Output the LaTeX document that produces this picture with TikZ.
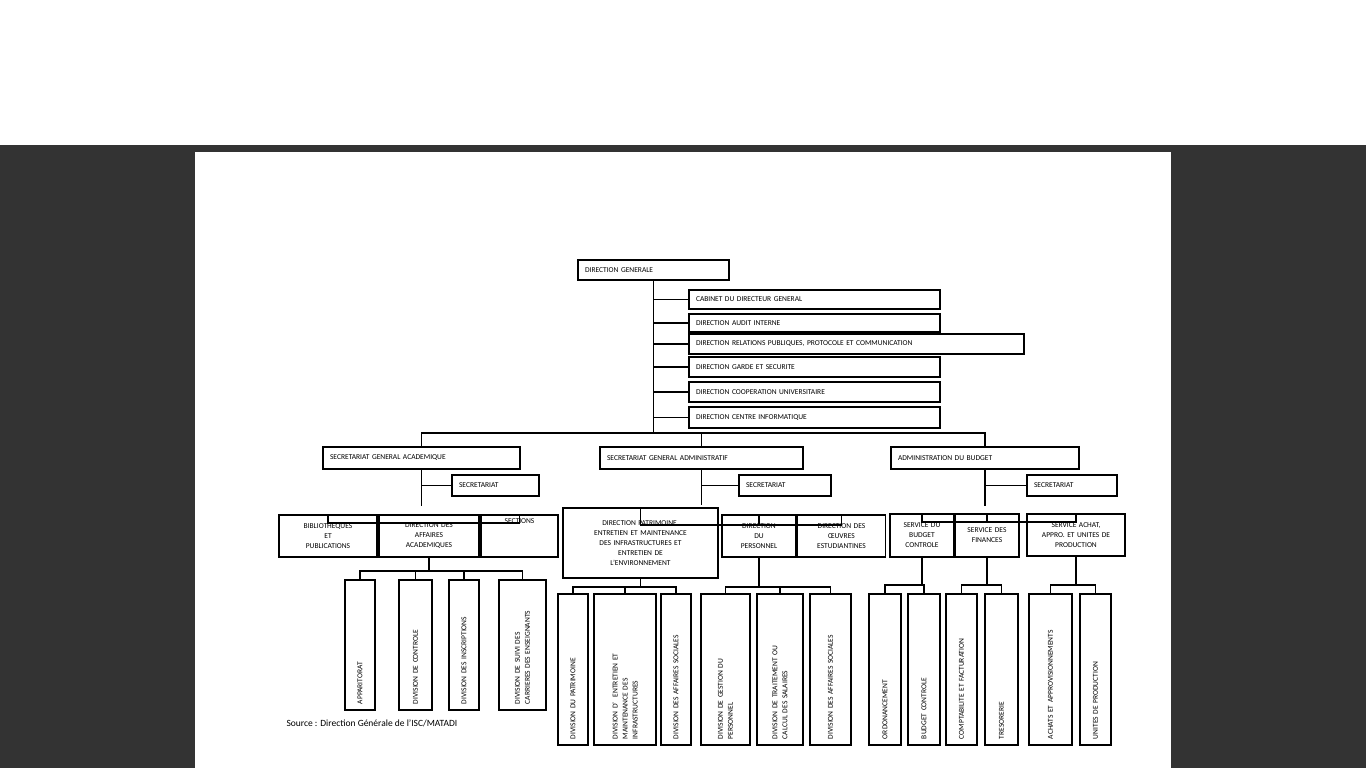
\documentclass[tikz,border=0pt]{standalone}
\usepackage{fontspec}
\setmainfont{Carlito}
\usetikzlibrary{positioning}
\newcommand{\ubox}[7][]{\node[unit,minimum width={(#5-#3)*1pt},minimum height={(#6-#4)*1pt},text width={(#5-#3-14)*1pt},#1] (#2) at ({(#3+#5)/2},{(#4+#6)/2}) {#7};}
\newcommand{\divbox}[6]{\node[unit,rotate=90,minimum width={(#5-#3)*1pt},minimum height={(#4-#2)*1pt},text width={(#5-#3-12)*1pt}] (#1) at ({(#2+#4)/2},{(#3+#5)/2}) {#6};}
\begin{document}
\begin{tikzpicture}[x=1pt,y=-1pt,
    unit/.style={draw,line width=1.6pt,inner sep=2pt,align=left,font=\fontsize{7.5}{10}\selectfont},
    mid/.style={align=center},
    link/.style={line width=1.6pt}]
  \useasboundingbox (0,0) rectangle (1366,768);
  \fill[white] (0,0) rectangle (1366,145);
  \fill[black!80] (0,145) rectangle (1366,768);
  \fill[white] (195,152) rectangle (1171,768);
  % direction generale
  \ubox{dg}{578}{260}{729}{280}{DIRECTION GENERALE}
  \ubox{cab}{689}{290}{940}{309}{CABINET DU DIRECTEUR GENERAL}
  \ubox{audit}{689}{314}{940}{332}{DIRECTION AUDIT INTERNE}
  \ubox{rp}{689}{334}{1024}{354}{DIRECTION RELATIONS PUBLIQUES, PROTOCOLE ET COMMUNICATION}
  \ubox{garde}{689}{357}{940}{377}{DIRECTION GARDE ET SECURITE}
  \ubox{coop}{689}{382}{940}{402}{DIRECTION COOPERATION UNIVERSITAIRE}
  \ubox{info}{689}{407}{940}{428}{DIRECTION CENTRE INFORMATIQUE}
  \coordinate (hub) at (653.5,433);
  % secretariats generaux
  \ubox{sga}{323}{447}{520}{469}{SECRETARIAT GENERAL ACADEMIQUE}
  \ubox{sgad}{600}{447}{803}{469}{SECRETARIAT GENERAL ADMINISTRATIF}
  \ubox{adb}{891}{447}{1079}{469}{ADMINISTRATION DU BUDGET}
  \ubox{sgasec}{452}{475}{539}{496}{SECRETARIAT}
  \ubox{sgadsec}{739}{475}{831}{496}{SECRETARIAT}
  \ubox{adbsec}{1027}{475}{1117}{496}{SECRETARIAT}
  % directions et services
  \ubox[mid,text width=90pt]{bib}{279}{515}{377}{557}{BIBLIOTHEQUES\\ET\\PUBLICATIONS}
  \ubox[mid,text width=94pt]{daa}{379}{515}{479}{557}{DIRECTION DES\\AFFAIRES\\ACADEMIQUES}
  \ubox[mid,text width=70pt,anchor=center,text depth=30pt]{sect}{481}{515}{558}{557}{SECTIONS}
  \ubox[mid,text width=150pt]{patr}{563}{508}{718}{578}{DIRECTION PATRIMOINE,\\ENTRETIEN ET MAINTENANCE\\DES INFRASTRUCTURES ET\\ENTRETIEN DE\\L'ENVIRONNEMENT}
  \ubox[mid,text width=70pt]{pers}{722}{515}{796}{557}{DIRECTION\\DU\\PERSONNEL}
  \ubox[mid,text width=84pt]{oeuv}{798}{515}{885}{557}{DIRECTION DES\\{\OE}UVRES\\ESTUDIANTINES}
  \ubox[mid,text width=60pt]{sbc}{891}{514}{953}{557}{SERVICE DU\\BUDGET\\CONTROLE}
  \ubox[mid,text width=60pt]{sfin}{956}{514}{1018}{557}{SERVICE DES\\FINANCES\\ }
  \ubox[mid,text width=94pt]{sach}{1028}{514}{1124}{556}{SERVICE ACHAT,\\APPRO. ET UNITES DE\\PRODUCTION}
  % divisions
  \divbox{appa}{345}{580}{375}{710}{APPARITORAT}
  \divbox{ctrl}{399}{580}{432}{710}{DIVISION DE CONTROLE}
  \divbox{insc}{449}{580}{479}{710}{DIVISION DES INSCRIPTIONS}
  \divbox{suivi}{499}{580}{546}{710}{DIVISION DE SUIVI DES\\CARRIERES DES ENSEIGNANTS}
  \divbox{dpat}{558}{594}{588}{745}{DIVISION DU PATRIMOINE}
  \divbox{dent}{594}{594}{656}{745}{DIVISION D' \ ENTRETIEN ET\\MAINTENANCE DES\\INFRASTRUCTURES}
  \divbox{dsoc}{661}{594}{691}{745}{DIVISION DES AFFAIRES SOCIALES}
  \divbox{dgest}{701}{594}{750}{745}{DIVISION DE GESTION DU\\PERSONNEL}
  \divbox{dtrait}{757}{594}{803}{745}{DIVISION DE TRAITEMENT OU\\CALCUL DES SALAIRES}
  \divbox{dsoc2}{810}{594}{851}{745}{DIVISION DES AFFAIRES SOCIALES}
  \divbox{ordo}{869}{594}{901}{745}{ORDONANCEMENT}
  \divbox{bctrl}{908}{594}{940}{745}{BUDGET CONTROLE}
  \divbox{compt}{946}{594}{977}{745}{COMPTABILITE ET FACTURATION}
  \divbox{treso}{985}{594}{1018}{745}{TRESORERIE}
  \divbox{achats}{1029}{594}{1072}{745}{ACHATS ET APPROVISIONNEMENTS}
  \divbox{unites}{1080}{594}{1111}{745}{UNITES DE PRODUCTION}
  \node[anchor=west,font=\fontsize{9.5}{11}\selectfont] (src) at (283,723) {Source : Direction Générale de l'ISC/MATADI};
  % liaisons
  \begin{scope}[every path/.style={link}]
    \draw (dg.south) -- (hub);
    \foreach \b in {cab,audit,rp,garde,coop,info} \draw (dg.south) |- (\b.west);
    \draw (sga.north) |- (hub) -| (adb.north);
    \draw (sgad.north) -- (sgad.north |- hub);
    \draw (sga.south) |- (sgasec.west);
    \draw (sgad.south) |- (sgadsec.west);
    \draw (adb.south) |- (adbsec.west);
    \draw (sga.south) -- ++(0,36);
    \draw (bib.north) |- ([yshift=-9pt]daa.north) -| (sect.north);
    \draw (sgad.south) -- ++(0,35);
    \draw (patr.north) |- ([yshift=-11pt]pers.north) -| (oeuv.north);
    \draw (pers.north) -- ++(0,11);
    \draw (adb.south) -- ++(0,36);
    \draw (sbc.north) |- ([yshift=-9pt]sfin.north) -| (sach.north);
    \draw (sfin.north) -- ++(0,9);
    \draw (daa.south) -- ++(0,13) coordinate (b1);
    \draw (appa.east) |- (b1) -| (suivi.east);
    \draw (ctrl.east) -- (ctrl.east |- b1);
    \draw (insc.east) -- (insc.east |- b1);
    \draw (patr.south) -- ++(0,8) coordinate (b2);
    \draw (dpat.east) |- (b2) -| (dsoc.east);
    \draw (dent.east) -- (dent.east |- b2);
    \draw (pers.south) -- ++(0,29) coordinate (b3);
    \draw (dgest.east) |- (b3) -| (dsoc2.east);
    \draw (dtrait.east) -- (dtrait.east |- b3);
    \draw (sbc.south) -- ++(0,27) coordinate (b4);
    \draw (ordo.east) |- (b4) -| (bctrl.east);
    \draw (sfin.south) -- ++(0,27) coordinate (b5);
    \draw (compt.east) |- (b5) -| (treso.east);
    \draw (sach.south) -- ++(0,28) coordinate (b6);
    \draw (achats.east) |- (b6) -| (unites.east);
  \end{scope}
\end{tikzpicture}
\end{document}
